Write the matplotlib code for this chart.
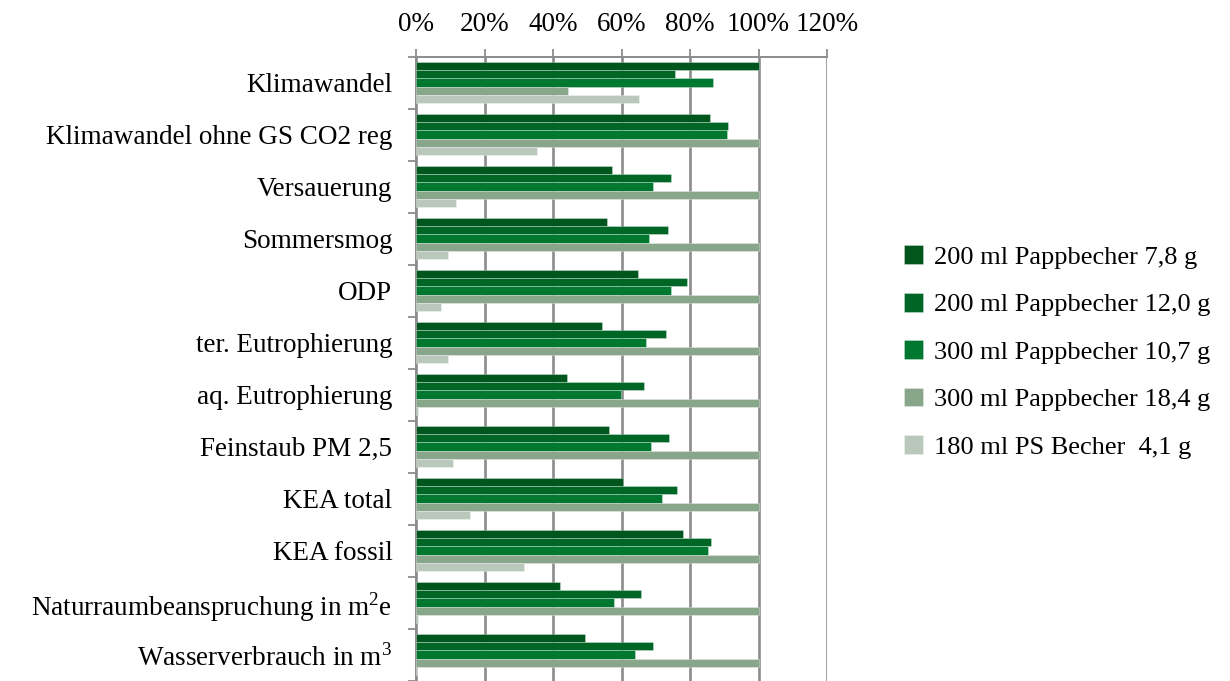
import matplotlib
matplotlib.use("Agg")
import matplotlib.pyplot as plt
import numpy as np

categories = ["Klimawandel", "Klimawandel ohne GS CO2 reg", "Versauerung", "Sommersmog",
              "ODP", "ter. Eutrophierung", "aq. Eutrophierung", "Feinstaub PM 2,5",
              "KEA total", "KEA fossil", "Naturraumbeanspruchung in m$^2$e",
              "Wasserverbrauch in m$^3$"]
series_names = ["200 ml Pappbecher 7,8 g", "200 ml Pappbecher 12,0 g",
                "300 ml Pappbecher 10,7 g", "300 ml Pappbecher 18,4 g",
                "180 ml PS Becher  4,1 g"]
s1 = [100, 85.9, 57.2, 55.7, 64.7, 54.4, 44.0, 56.4, 60.4, 78.1, 42.0, 49.3]
s2 = [75.7, 91.0, 74.5, 73.5, 79.1, 72.9, 66.5, 74.0, 76.1, 86.0, 65.8, 69.2]
s3 = [86.6, 90.7, 69.2, 68.1, 74.4, 67.1, 59.9, 68.5, 71.8, 85.2, 57.7, 64.0]
s4 = [44.4, 100, 100, 100, 100, 100, 100, 100, 100, 100, 100, 100]
s5 = [65.2, 35.3, 11.6, 9.3, 7.3, 9.2, 0.5, 10.7, 15.7, 31.4, 0.5, 0.3]
xticks = [0, 20, 40, 60, 80, 100, 120]
xticklabels = ["0%", "20%", "40%", "60%", "80%", "100%", "120%"]
colors = ["#00561c", "#006625", "#00782f", "#87a68a", "#b9c8bb"]

plt.rcParams['font.family'] = ['Liberation Serif', 'DejaVu Serif']
plt.rcParams['mathtext.fontset'] = 'custom'
plt.rcParams['mathtext.rm'] = 'Liberation Serif'

fs = 19.5
fig = plt.figure(figsize=(12.3, 6.81), dpi=100)
ax = fig.add_axes([416/1230, 1 - 680.5/681, (827-416)/1230, (680.5-56.5)/681])

data = [s1, s2, s3, s4, s5]
y = np.arange(len(categories))
h = 0.155
for i, (vals, c, name) in enumerate(zip(data, colors, series_names)):
    ax.barh(y + (i - 2) * h, vals, height=h, color=c, label=name,
            edgecolor=(1, 1, 1, 0.35), linewidth=0.6, zorder=3)

ax.set_xlim(0, 120)
ax.set_ylim(len(categories) - 0.5, -0.5)
ax.set_xticks(xticks)
ax.set_xticklabels(xticklabels)
ax.xaxis.tick_top()
ax.set_yticks(y)
ax.set_yticklabels(categories)
ax.set_yticks(np.arange(len(categories) + 1) - 0.5, minor=True)
ax.tick_params(axis='y', which='major', length=0, pad=17, labelsize=fs)
ax.tick_params(axis='y', which='minor', length=6, width=1.3, color='#8c8c8c')
ax.tick_params(axis='x', length=6, width=1.3, color='#8c8c8c', pad=8, labelsize=fs)
ax.grid(axis='x', color='#8c8c8c', linewidth=1.9, zorder=0)
for side in ['top', 'left']:
    ax.spines[side].set_color('#8c8c8c')
    ax.spines[side].set_linewidth(1.4)
ax.spines['right'].set_visible(False)
ax.spines['bottom'].set_visible(False)

fig.legend(loc='center left', bbox_to_anchor=(891/1230, 1 - 352/681), frameon=False,
           fontsize=19, handlelength=0.72, handleheight=0.72, handletextpad=0.4,
           labelspacing=0.9, borderpad=0)

fig.savefig("out.png", dpi=100)
